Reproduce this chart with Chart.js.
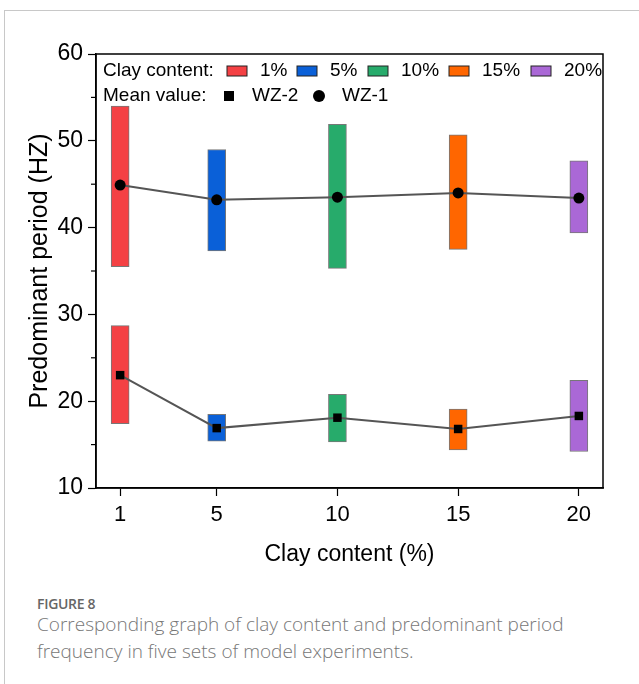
<!DOCTYPE html>
<html>
<head>
<meta charset="utf-8">
<script src="https://cdn.jsdelivr.net/npm/chart.js@4.4.1/dist/chart.umd.min.js"></script>
<style>
  body { margin: 0; background: #fff; }
  .card { position: absolute; left: 4px; top: 10px; width: 700px; height: 700px;
          border-left: 1px solid #c8c8c8; border-top: 1px solid #c8c8c8; }
  #wrap { position: absolute; left: 0; top: 0; width: 639px; height: 580px; }
  .fig { position: absolute; left: 37px; top: 594px; font-family: "Open Sans", sans-serif;
         color: #666; font-size: 14px; font-weight: 600; letter-spacing: -0.3px; }
  .cap { position: absolute; left: 37px; top: 611px; width: 545px; font-family: "Open Sans", sans-serif;
         color: #777; font-size: 19px; line-height: 27px; font-weight: 300; }
</style>
</head>
<body>
<div class="card"></div>
<div id="wrap"><canvas id="chart" width="639" height="580"></canvas></div>
<div class="fig">FIGURE 8</div>
<div class="cap">Corresponding graph of clay content and predominant period frequency in five sets of model experiments.</div>
<script>
const clayContent = [1, 5, 10, 15, 20];
const clayLabels = ["1%", "5%", "10%", "15%", "20%"];
const colors = ["#F44144", "#0A60D8", "#27AB6B", "#FF6600", "#AA68D6"];

// WZ-1 range (min, max) and mean
const wz1Low = [35.5, 37.3, 35.3, 37.5, 39.4];
const wz1High = [54.0, 49.0, 51.9, 50.7, 47.7];
const wz1Mean = [44.9, 43.2, 43.5, 44.0, 43.4];

// WZ-2 range (min, max) and mean
const wz2Low = [17.4, 15.4, 15.3, 14.4, 14.2];
const wz2High = [28.7, 18.5, 20.8, 19.1, 22.4];
const wz2Mean = [23.0, 16.9, 18.1, 16.8, 18.3];

const yTicks = [10, 20, 30, 40, 50, 60];
const yMinor = [15, 25, 35, 45, 55];

const font = "'Liberation Sans', Arial, sans-serif";

const rangeData = (lo, hi) => clayContent.map((x, i) => ({ x: x, y: [lo[i], hi[i]] }));
const meanData = (m) => clayContent.map((x, i) => ({ x: x, y: m[i] }));

const framePlugin = {
    id: "frame",
    afterDraw(chart) {
        const c = chart.ctx;
        const a = chart.chartArea;
        const ys = chart.scales.y;
        c.save();
        c.strokeStyle = "#000";
        c.lineWidth = 1.5;
        c.strokeRect(a.left, a.top, a.right - a.left, a.bottom - a.top);
        // minor ticks
        c.lineWidth = 1.2;
        yMinor.forEach(v => {
            const py = ys.getPixelForValue(v);
            c.beginPath();
            c.moveTo(a.left - 5, py);
            c.lineTo(a.left, py);
            c.stroke();
        });
        // legend
        c.font = "19px " + font;
        c.fillStyle = "#000";
        c.textBaseline = "middle";
        const x0 = a.left + 7;
        const r1 = a.top + 17;
        const r2 = a.top + 42;
        c.fillText("Clay content:", x0, r1);
        const boxX = [227, 297, 368, 449, 531];
        clayLabels.forEach((t, i) => {
            const bx = boxX[i];
            c.fillStyle = colors[i];
            c.fillRect(bx, r1 - 5, 20, 10);
            c.strokeStyle = "#222";
            c.lineWidth = 1;
            c.strokeRect(bx, r1 - 5, 20, 10);
            c.fillStyle = "#000";
            c.fillText(t, bx + 33, r1);
        });
        c.fillText("Mean value:", x0, r2);
        c.fillRect(224, r2 - 5, 10, 10);
        c.fillText("WZ-2", 252, r2);
        c.beginPath();
        c.arc(319, r2, 6, 0, Math.PI * 2);
        c.fill();
        c.fillText("WZ-1", 342, r2);
        c.restore();
    }
};

const ctx = document.getElementById("chart").getContext("2d");
const chart = new Chart(ctx, {
    type: "bar",
    data: {
        datasets: [
            {
                type: "line",
                label: "WZ-1",
                data: meanData(wz1Mean),
                borderColor: "#555",
                borderWidth: 2,
                pointStyle: "circle",
                pointRadius: 5.5,
                pointBackgroundColor: "#000",
                pointBorderColor: "#000",
                pointBorderWidth: 0,
                tension: 0,
                order: 0,
            },
            {
                type: "line",
                label: "WZ-2",
                data: meanData(wz2Mean),
                borderColor: "#555",
                borderWidth: 2,
                pointStyle: "rect",
                pointRadius: 6,
                pointBackgroundColor: "#000",
                pointBorderColor: "#000",
                pointBorderWidth: 0,
                tension: 0,
                order: 0,
            },
            {
                label: "WZ-1 range",
                data: rangeData(wz1Low, wz1High),
                backgroundColor: colors,
                borderColor: "#777",
                borderWidth: 1,
                borderSkipped: false,
                barThickness: 18,
                grouped: false,
                order: 1,
            },
            {
                label: "WZ-2 range",
                data: rangeData(wz2Low, wz2High),
                backgroundColor: colors,
                borderColor: "#777",
                borderWidth: 1,
                borderSkipped: false,
                barThickness: 18,
                grouped: false,
                order: 1,
            },
        ],
    },
    plugins: [framePlugin],
    options: {
        responsive: false,
        animation: false,
        layout: { padding: { top: 54, right: 36, left: 0, bottom: 0 } },
        scales: {
            x: {
                type: "linear",
                min: 0,
                max: 21,
                offset: false,
                afterBuildTicks: (s) => { s.ticks = clayContent.map(v => ({ value: v })); },
                afterFit: (s) => { s.height = 92; },
                grid: { drawOnChartArea: false, offset: false, tickLength: 8, tickColor: "#000", tickWidth: 1.2 },
                border: { color: "#000", width: 1.5 },
                ticks: { color: "#000", font: { family: font, size: 22 }, padding: 6, maxRotation: 0 },
                title: { display: true, text: "Clay content (%)", color: "#000",
                         font: { family: font, size: 23 }, padding: { top: 0, bottom: 12 } },
            },
            y: {
                min: 10,
                max: 60,
                afterBuildTicks: (s) => { s.ticks = yTicks.map(v => ({ value: v })); },
                afterFit: (s) => { s.width = 96; },
                grid: { drawOnChartArea: false, tickLength: 8, tickColor: "#000", tickWidth: 1.2 },
                border: { color: "#000", width: 1.5 },
                ticks: { color: "#000", font: { family: font, size: 23 }, padding: 5 },
                title: { display: true, text: "Predominant period (HZ)", color: "#000",
                         font: { family: font, size: 25 }, padding: { top: 25, bottom: 0 } },
            },
        },
        plugins: {
            legend: { display: false },
            tooltip: { enabled: false },
        },
    },
});
</script>
</body>
</html>
